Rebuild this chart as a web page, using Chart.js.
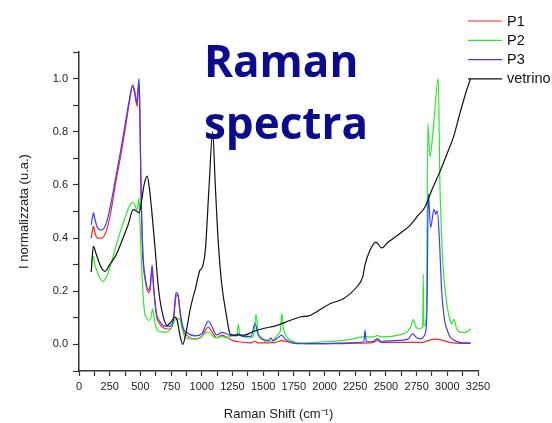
<!DOCTYPE html>
<html><head><meta charset="utf-8">
<script src="https://cdn.jsdelivr.net/npm/chart.js@4/dist/chart.umd.min.js"></script>
<style>html,body{margin:0;padding:0;background:#fff;} canvas{display:block}</style>
</head><body>
<canvas id="c" width="552" height="423"></canvas>
<script>
const titleLines = ['Raman', 'spectra'];
const seriesNames = ['P1', 'P2', 'P3', 'vetrino'];
const seriesColors = ['#ff2424', '#2ce82c', '#3c3cff', '#111111'];
const xTitle = 'Raman Shift (cm\u207B\u00B9)';
const yTitle = 'I normalizzata (u.a.)';

const p1X = [100,110,118,130,150,185,225,260,300,340,380,410,437,455,475,480,489,495,505,520,540,565,580,595,608,630,660,690,740,770,790,805,825,850,877,945,1000,1030,1053,1080,1121,1165,1200,1250,1300,1400,1434,1460,1600,1650,1700,1750,2000,2300,2400,2430,2460,2600,2800,2870,2920,2960,3050,3190];
const p1Y = [0.40,0.43,0.445,0.42,0.40,0.40,0.43,0.50,0.61,0.71,0.82,0.91,0.97,0.94,0.895,0.94,0.98,0.88,0.58,0.33,0.24,0.195,0.21,0.28,0.21,0.11,0.075,0.062,0.058,0.09,0.18,0.187,0.11,0.05,0.035,0.02,0.03,0.055,0.065,0.05,0.025,0.035,0.028,0.015,0.01,0.006,0.012,0.006,0.008,0.014,0.01,0.005,0.003,0.005,0.008,0.016,0.008,0.008,0.008,0.018,0.02,0.015,0.006,0.004];

const p2X = [100,110,117,130,160,193,230,270,320,370,410,437,455,470,480,489,497,510,532,550,570,585,600,615,638,680,714,750,780,800,820,840,863,945,1000,1040,1060,1108,1165,1200,1250,1285,1298,1310,1400,1425,1442,1460,1480,1520,1570,1600,1625,1640,1651,1665,1690,1750,1800,2000,2200,2321,2400,2430,2460,2600,2680,2705,2723,2745,2770,2800,2804,2808,2815,2830,2842,2859,2886,2926,2940,2946,2965,2986,3000,3016,3035,3054,3075,3103,3145,3193];
const p2Y = [0.31,0.325,0.33,0.30,0.26,0.237,0.26,0.32,0.40,0.47,0.52,0.534,0.525,0.505,0.52,0.551,0.45,0.29,0.128,0.10,0.09,0.10,0.134,0.09,0.053,0.046,0.046,0.06,0.09,0.097,0.095,0.06,0.028,0.02,0.03,0.046,0.045,0.025,0.03,0.025,0.035,0.03,0.075,0.035,0.025,0.04,0.113,0.04,0.03,0.01,0.01,0.025,0.04,0.05,0.116,0.06,0.03,0.01,0.005,0.01,0.018,0.028,0.028,0.034,0.028,0.035,0.05,0.07,0.093,0.065,0.059,0.065,0.264,0.07,0.07,0.12,0.832,0.706,0.813,1.0,0.6,0.505,0.30,0.19,0.14,0.103,0.078,0.094,0.06,0.046,0.045,0.059];

const p3X = [100,110,118,130,150,185,225,260,300,340,380,410,437,455,470,480,489,495,505,520,540,565,580,595,608,630,660,690,740,770,790,805,825,850,877,945,1000,1030,1053,1080,1121,1165,1200,1250,1300,1330,1400,1434,1460,1490,1550,1560,1580,1620,1650,1680,1750,1800,2000,2200,2320,2330,2340,2400,2430,2460,2600,2680,2717,2750,2780,2820,2835,2845,2864,2892,2905,2918,2935,2954,2978,2995,3020,3049,3100,3190];
const p3Y = [0.45,0.48,0.495,0.47,0.44,0.43,0.46,0.53,0.63,0.73,0.84,0.92,0.976,0.95,0.908,0.96,1.0,0.90,0.60,0.35,0.25,0.205,0.22,0.298,0.22,0.12,0.085,0.07,0.068,0.10,0.195,0.19,0.12,0.06,0.045,0.032,0.04,0.07,0.088,0.07,0.036,0.045,0.04,0.032,0.04,0.03,0.03,0.078,0.035,0.02,0.015,0.025,0.015,0.025,0.035,0.02,0.005,0.003,0.003,0.006,0.01,0.053,0.01,0.012,0.022,0.012,0.015,0.02,0.04,0.025,0.021,0.04,0.15,0.567,0.44,0.509,0.49,0.502,0.40,0.20,0.09,0.06,0.03,0.018,0.008,0.005];

const vX = [100,108,117,140,180,212,250,300,350,400,442,472,490,510,530,556,575,592,620,650,687,719,750,782,800,820,845,870,904,930,945,985,1005,1030,1060,1089,1110,1135,1162,1203,1230,1260,1350,1400,1500,1600,1718,1800,1881,2044,2153,2262,2311,2329,2370,2419,2465,2519,2614,2696,2764,2818,2873,2940,3000,3050,3103,3158,3190];
const vY = [0.272,0.33,0.369,0.34,0.29,0.275,0.30,0.335,0.39,0.45,0.507,0.50,0.495,0.54,0.60,0.633,0.58,0.505,0.36,0.20,0.103,0.072,0.085,0.103,0.09,0.04,0.0,0.04,0.128,0.18,0.203,0.279,0.291,0.36,0.60,0.80,0.60,0.38,0.229,0.103,0.04,0.035,0.035,0.045,0.06,0.07,0.09,0.103,0.109,0.153,0.172,0.216,0.254,0.298,0.354,0.385,0.363,0.385,0.417,0.448,0.486,0.517,0.58,0.65,0.72,0.78,0.87,0.957,1.0];

const xs = [p1X, p2X, p3X, vX];
const ys = [p1Y, p2Y, p3Y, vY];
function pts(i){ return xs[i].map((x,k)=>({x:x, y:ys[i][k]})); }

// draw order: vetrino on top, then P3, P2, P1
const drawOrder = [3, 2, 1, 0];
const datasets = drawOrder.map(i => ({
  label: seriesNames[i],
  data: pts(i),
  borderColor: seriesColors[i],
  borderWidth: 1.2,
  pointRadius: 0,
  fill: false,
  cubicInterpolationMode: 'monotone'
}));

const overlay = {
  id: 'overlay',
  afterDraw(chart){
    const ctx = chart.ctx;
    ctx.save();
    ctx.fillStyle = '#0b0b90';
    ctx.font = '700 44px "Open Sans"';
    ctx.textBaseline = 'alphabetic';
    ctx.textAlign = 'left';
    ctx.fillText(titleLines[0], 204, 77);
    ctx.fillText(titleLines[1], 204, 138.5);
    // legend
    const ly = [21, 40.3, 59.6, 78.9];
    ctx.font = '14.5px "Liberation Sans", Arial, sans-serif';
    ctx.textBaseline = 'middle';
    for (let i = 0; i < seriesNames.length; i++) {
      ctx.strokeStyle = seriesColors[i];
      ctx.lineWidth = 1.2;
      ctx.beginPath();
      ctx.moveTo(468, ly[i]);
      ctx.lineTo(502, ly[i]);
      ctx.stroke();
      ctx.fillStyle = '#111';
      ctx.fillText(seriesNames[i], 507, ly[i] + 0.5);
    }
    ctx.restore();
  }
};

const axisFont = {family: '"Liberation Sans", Arial, sans-serif', size: 11};
const titleFont = {family: '"Liberation Sans", Arial, sans-serif', size: 13};

new Chart(document.getElementById('c'), {
  type: 'line',
  data: {datasets},
  options: {
    responsive: false,
    animation: false,
    layout: {padding: {left: 0, top: 52, right: 74, bottom: 0}},
    plugins: {legend: {display: false}, tooltip: {enabled: false}},
    scales: {
      x: {
        type: 'linear', min: 0, max: 3250,
        afterFit(s){ s.height = 52; },
        grid: {drawOnChartArea: false, drawTicks: true, tickLength: 5, tickColor: '#333', tickWidth: 1.2},
        border: {display: true, color: '#333', width: 1.5},
        ticks: {stepSize: 125, autoSkip: false, maxRotation: 0, minRotation: 0, color: '#222', font: axisFont, padding: 4,
          callback: v => (Math.round(v) % 250 === 0 ? String(Math.round(v)) : '')},
        title: {display: true, text: xTitle, color: '#222', font: titleFont, padding: {top: 4, bottom: 1}}
      },
      y: {
        type: 'linear', min: -0.1, max: 1.1,
        afterFit(s){ s.width = 79; },
        grid: {drawOnChartArea: false, drawTicks: true, tickLength: 6, tickColor: '#333', tickWidth: 1.2},
        border: {display: true, color: '#333', width: 1.5},
        ticks: {stepSize: 0.1, autoSkip: false, color: '#222', font: axisFont, padding: 5,
          callback: v => { const k = Math.round(v * 10); return (k >= 0 && k <= 10 && k % 2 === 0) ? (k / 10).toFixed(1) : ''; }},
        title: {display: true, text: yTitle, color: '#222', font: titleFont, padding: {top: 17, bottom: 2}}
      }
    }
  },
  plugins: [overlay]
});
</script>
</body></html>
